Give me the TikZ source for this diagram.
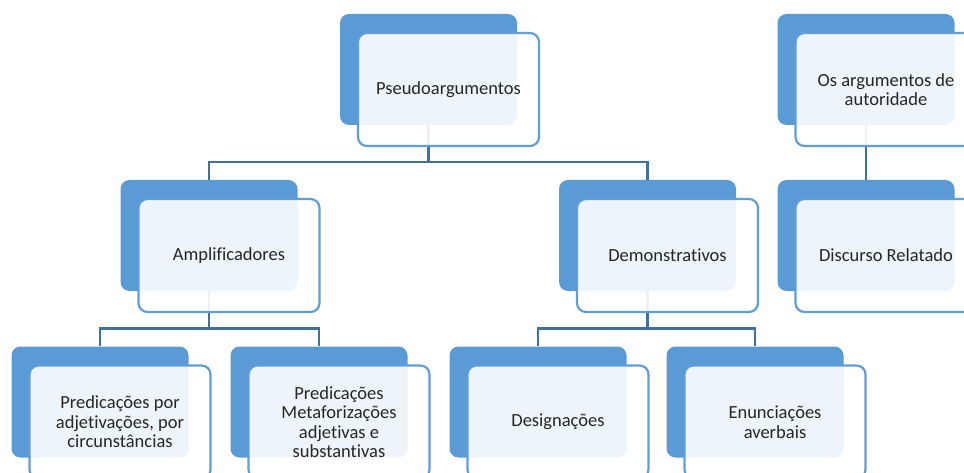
\documentclass[tikz,border=0pt]{standalone}
\usepackage{fontspec}
\setmainfont[Ligatures=NoCommon]{Carlito}
\usetikzlibrary{positioning}
\definecolor{artblue}{RGB}{91,155,213}
\definecolor{artline}{RGB}{65,113,156}
\definecolor{artedge}{RGB}{98,158,214}

\tikzset{
    backbox/.style={rectangle, rounded corners=9pt, fill=artblue, minimum width=177pt, minimum height=111pt},
    frontbox/.style={rectangle, rounded corners=9pt, draw=artedge, line width=2.2pt, fill=white, fill opacity=0.9, text opacity=1,
        minimum width=181pt, minimum height=113pt, align=center, font=\fontsize{18.5}{19.5}\selectfont, text=black!85},
    conn/.style={draw=artline, line width=2.6pt}
}

\begin{document}
\begin{tikzpicture}[x=1pt, y=-1pt]
    \useasboundingbox (0,0) rectangle (964,473);
    \clip (0,0) rectangle (964,473);

    % Back boxes
    \node[backbox] (top) at (428.5,69.5) {};
    \node[backbox] (amp) at (209,235.5) {};
    \node[backbox] (dem) at (647.5,235.5) {};
    \node[backbox] (auth) at (866,69.5) {};
    \node[backbox] (disc) at (866,235.5) {};
    \node[backbox] (predadj) at (100,402) {};
    \node[backbox] (predmet) at (319,402) {};
    \node[backbox] (desig) at (538,402) {};
    \node[backbox] (enunc) at (755,402) {};

    % Connectors
    \draw[conn] (top.south) -- ++(0,37) -| (amp.north);
    \draw[conn] (top.south) -- ++(0,37) -| (dem.north);
    \draw[conn] (amp.south) -- ++(0,37) -| (predadj.north);
    \draw[conn] (amp.south) -- ++(0,37) -| (predmet.north);
    \draw[conn] (dem.south) -- ++(0,37) -| (desig.north);
    \draw[conn] (dem.south) -- ++(0,37) -| (enunc.north);
    \draw[conn] (auth.south) -- (disc.north);

    % Front boxes
    \node[frontbox] (topf) at ([shift={(20,20)}]top.center) {Pseudoargumentos};
    \node[frontbox] (ampf) at ([shift={(20,20)}]amp.center) {Amplificadores};
    \node[frontbox] (demf) at ([shift={(20,20)}]dem.center) {Demonstrativos};
    \node[frontbox] (authf) at ([shift={(20,20)}]auth.center) {Os argumentos de\\autoridade};
    \node[frontbox] (discf) at ([shift={(20,20)}]disc.center) {Discurso Relatado};
    \node[frontbox] (predadjf) at ([shift={(20,20)}]predadj.center) {Predicações por\\adjetivações, por\\circunstâncias};
    \node[frontbox] (predmetf) at ([shift={(20,20)}]predmet.center) {Predicações\\Metaforizações\\adjetivas e\\substantivas};
    \node[frontbox] (desigf) at ([shift={(20,20)}]desig.center) {Designações};
    \node[frontbox] (enuncf) at ([shift={(20,20)}]enunc.center) {Enunciações\\averbais};
\end{tikzpicture}
\end{document}
